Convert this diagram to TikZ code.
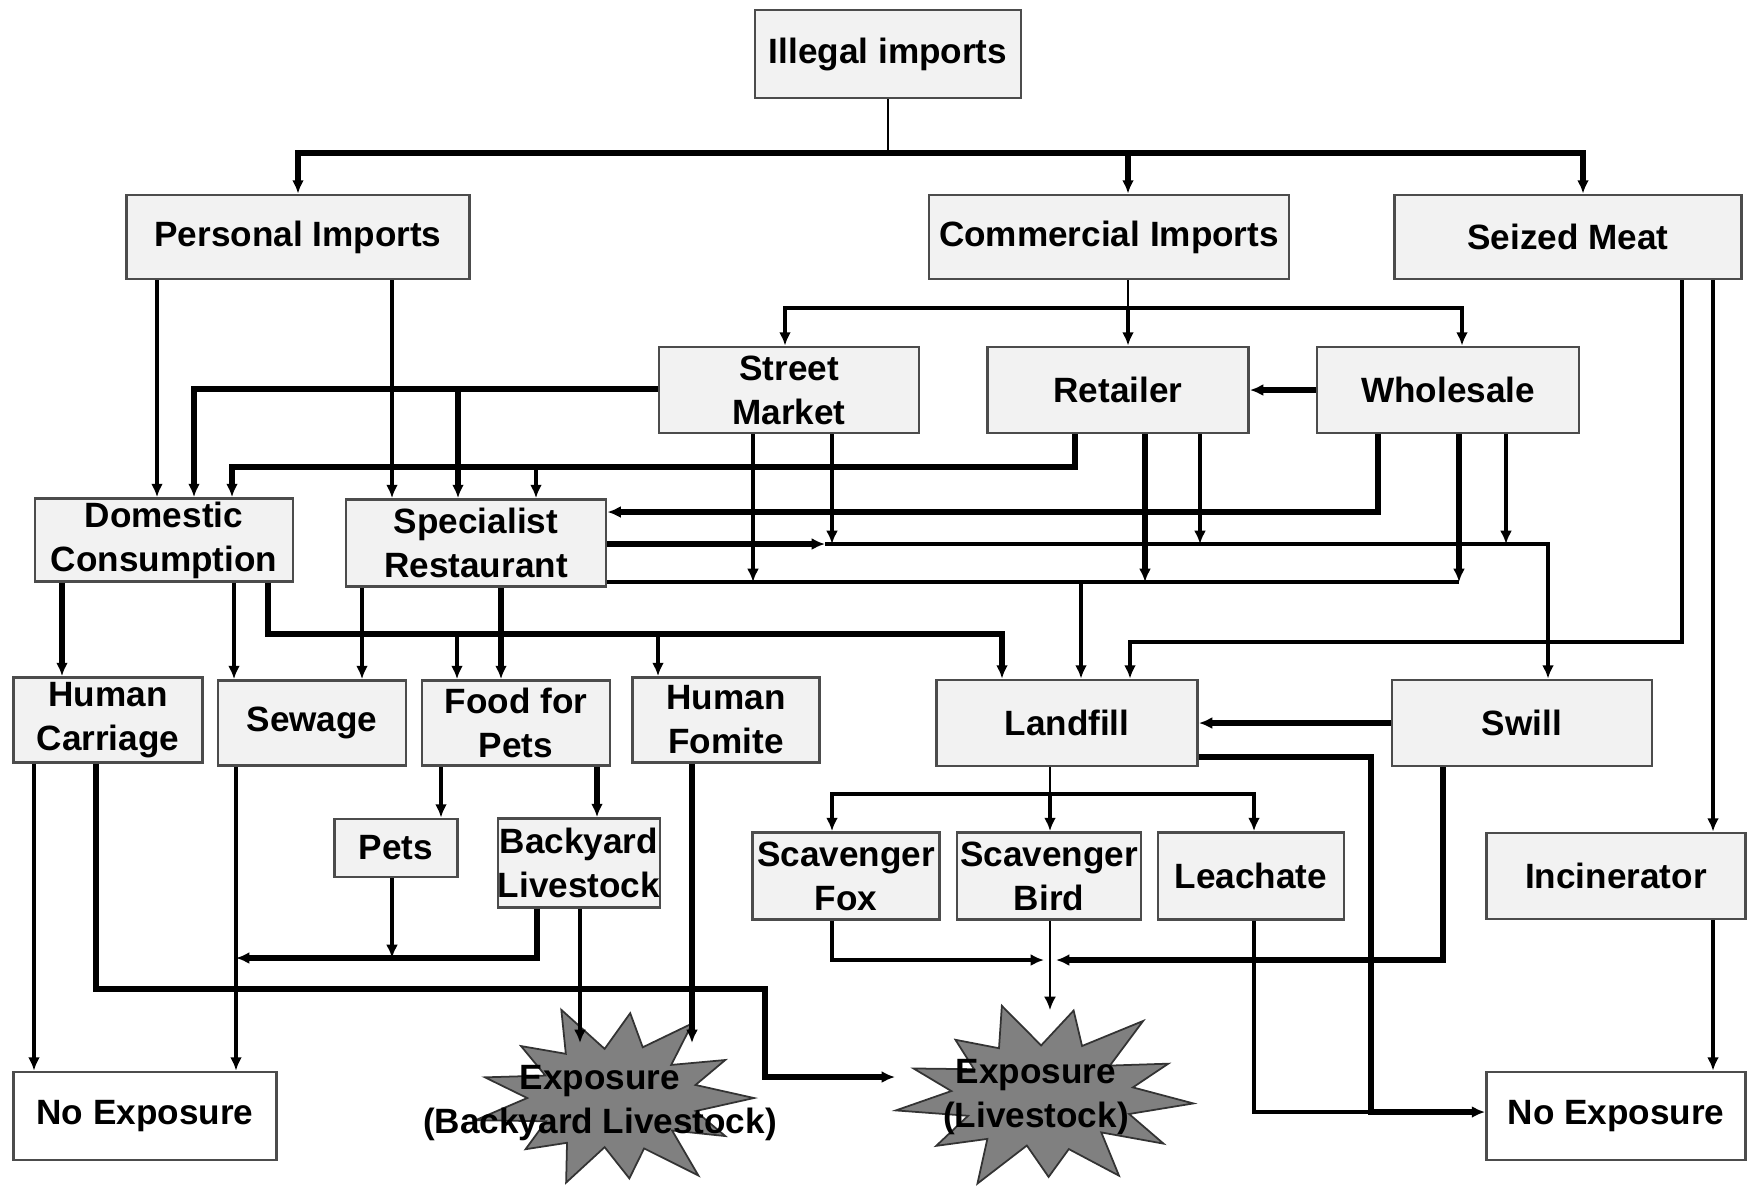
\documentclass[tikz,border=0pt]{standalone}
\usepackage{fontspec}
\setmainfont{Liberation Sans}
\usetikzlibrary{arrows.meta}
\begin{document}
\begin{tikzpicture}[x=0.1mm, y=-0.1mm, >={Latex[length=3.8pt,width=3.4pt]},
  box/.style={draw=black!70, fill=gray!10, line width=0.8pt, inner sep=0pt, align=center,
    font=\bfseries\fontsize{10}{12.5}\selectfont},
  endbox/.style={box, fill=white},
  burst/.style={fill=gray, draw=black!80, line width=0.5pt, line join=miter},
  lbl/.style={align=center, font=\bfseries\fontsize{10}{12.5}\selectfont},
  flow/.style={line width=1.1pt},
  heavy/.style={line width=1.7pt},
  thinln/.style={line width=0.6pt}]
\useasboundingbox (0,0) rectangle (1748,1187);

\node[box, minimum width=26.6mm, minimum height=8.8mm] (ill) at (888,54) {Illegal imports};
\node[box, minimum width=34.3mm, minimum height=8.4mm] (pers) at (298,237) {Personal Imports};
\node[box, minimum width=36mm, minimum height=8.4mm] (comm) at (1109,237) {Commercial Imports};
\node[box, minimum width=34.7mm, minimum height=8.4mm] (seiz) at (1568,237) {Seized Meat};
\node[box, minimum width=26mm, minimum height=8.6mm] (street) at (789,390) {Street\\Market};
\node[box, minimum width=26.1mm, minimum height=8.6mm] (retail) at (1118,390) {Retailer};
\node[box, minimum width=26.2mm, minimum height=8.6mm] (whole) at (1448,390) {Wholesale};
\node[box, minimum width=25.8mm, minimum height=8.3mm] (dom) at (164,540) {Domestic\\Consumption};
\node[box, minimum width=26mm, minimum height=8.7mm] (spec) at (476,543) {Specialist\\Restaurant};
\node[box, minimum width=18.9mm, minimum height=8.5mm] (hcar) at (108,720) {Human\\Carriage};
\node[box, minimum width=18.8mm, minimum height=8.5mm] (sew) at (312,723) {Sewage};
\node[box, minimum width=18.8mm, minimum height=8.5mm] (food) at (516,723) {Food for\\Pets};
\node[box, minimum width=18.7mm, minimum height=8.5mm] (hfom) at (726,720) {Human\\Fomite};
\node[box, minimum width=26.1mm, minimum height=8.6mm] (land) at (1067,723) {Landfill};
\node[box, minimum width=26mm, minimum height=8.6mm] (swill) at (1522,723) {Swill};
\node[box, minimum width=12.3mm, minimum height=5.8mm] (pets) at (396,848) {Pets};
\node[box, minimum width=15.3mm, minimum height=8.9mm] (back) at (579,863) {Backyard\\Livestock};
\node[box, minimum width=18.7mm, minimum height=8.7mm] (fox) at (846,876) {Scavenger\\Fox};
\node[box, minimum width=18.4mm, minimum height=8.7mm] (bird) at (1049,876) {Scavenger\\Bird};
\node[box, minimum width=18.6mm, minimum height=8.7mm] (leach) at (1251,876) {Leachate};
\node[box, minimum width=25.9mm, minimum height=8.6mm] (incin) at (1616,876) {Incinerator};
\node[endbox, minimum width=26.3mm, minimum height=8.8mm] (noexl) at (145,1116) {No Exposure};
\node[endbox, minimum width=25.9mm, minimum height=8.8mm] (noexr) at (1616,1116) {No Exposure};

% exposure bursts
\coordinate (expa) at (614,1098);
\coordinate (expb) at (1044,1096);
\draw[burst, shift={(expa)}] (0:140 and 80)
  \foreach \a/\f in {14/0.6,28/0.9,41/0.55,55/1.05,69/0.6,83/0.9,97/0.55,110/1.0,124/0.6,
    138/0.85,152/0.55,166/1.02,180/0.62,194/0.95,207/0.55,221/0.88,235/0.6,249/1.05,263/0.55,
    277/0.95,290/0.6,304/1.0,318/0.55,332/0.9,346/0.6}
  { -- (\a:{\f*140} and {\f*90}) } -- cycle;
\draw[burst, shift={(expb)}] (5:150 and 85)
  \foreach \a/\f in {19/0.6,33/0.95,46/0.55,60/1.0,74/0.6,88/0.88,102/0.55,115/1.05,129/0.6,
    143/0.9,157/0.55,171/1.0,185/0.62,199/0.92,212/0.55,226/0.85,240/0.6,254/1.02,268/0.55,
    282/0.95,295/0.6,309/1.05,323/0.55,337/0.9,351/0.6}
  { -- (\a:{\f*150} and {\f*92}) } -- cycle;
\node[lbl] (expatxt) at (600,1103) {Exposure\\(Backyard Livestock)};
\node[lbl] (expbtxt) at (1036,1097) {Exposure\\(Livestock)};

\coordinate (top) at (888,153);
\coordinate (cbus) at (1128,308);
\coordinate (lbus) at (1050,794);
\draw[thinln] (ill) -- (top);
\draw[heavy,->] (top) -| (pers);
\draw[heavy,->] (top) -| (comm.north -| 1128,0);
\draw[heavy,->] (top) -| (seiz.north -| 1583,0);

\draw[flow,->] (pers.south -| 157,0) -- (dom.north -| 157,0);
\draw[flow,->] (pers.south -| 392,0) -- (spec.north -| 392,0);

\draw[thinln] (comm.south -| cbus) -- (cbus);
\draw[flow,->] (cbus) -- (retail.north -| cbus);
\draw[flow,->] (cbus) -| (street.north -| 785,0);
\draw[flow,->] (cbus) -| (whole.north -| 1462,0);

\draw[heavy,->] (street.west |- 0,389) -| (dom.north -| 194,0);
\draw[heavy,->] (458,389) -- (spec.north -| 458,0);
\draw[flow,->] (street.south -| 753,0) -- (753,582);
\draw[flow,->] (street.south -| 832,0) -- (832,544);

\draw[heavy,->] (retail.south -| 1075,0) |- (232,467) -- (dom.north -| 232,0);
\draw[flow,->] (536,467) -- (spec.north -| 536,0);
\draw[heavy,->] (retail.south -| 1145,0) -- (1145,582);
\draw[flow,->] (retail.south -| 1200,0) -- (1200,544);

\draw[heavy,->] (whole) -- (retail);
\draw[heavy,->] (whole.south -| 1378,0) |- (spec.east |- 0,512);
\draw[heavy,->] (whole.south -| 1459,0) -- (1459,582);
\draw[flow,->] (whole.south -| 1506,0) -- (1506,544);

\draw[heavy,->] (spec.east |- 0,544) -- (825,544);
\draw[flow,->] (825,544) -| (swill.north -| 1548,0);
\draw[flow] (spec.east |- 0,582) -- (1459,582);
\draw[flow,->] (1081,582) -- (land.north -| 1081,0);

\draw[flow,->] (seiz.south -| 1682,0) |- (1130,642) -- (land.north -| 1130,0);
\draw[flow,->] (seiz.south -| 1713,0) -- (incin.north -| 1713,0);

\draw[heavy,->] (dom.south -| 62,0) -- (hcar.north -| 62,0);
\draw[flow,->] (dom.south -| 234,0) -- (sew.north -| 234,0);
\draw[heavy,->] (dom.south -| 268,0) |- (1002,634) -- (land.north -| 1002,0);
\draw[flow,->] (457,634) -- (food.north -| 457,0);
\draw[flow,->] (658,634) -- (hfom.north -| 658,0);
\draw[flow,->] (spec.south -| 362,0) -- (sew.north -| 362,0);
\draw[heavy,->] (spec.south -| 501,0) -- (food.north -| 501,0);

\draw[flow,->] (food.south -| 441,0) -- (pets.north -| 441,0);
\draw[heavy,->] (food.south -| 597,0) -- (back.north -| 597,0);
\draw[flow,->] (pets.south -| 392,0) -- (392,958);
\draw[heavy,->] (back.south -| 537,0) |- (236,958);
\draw[flow,->] (back.south -| 580,0) -- (580,1043);
\draw[heavy,->] (hfom.south -| 692,0) -- (692,1043);

\draw[flow,->] (hcar.south -| 34,0) -- (noexl.north -| 34,0);
\draw[heavy,->] (hcar.south -| 96,0) |- (765,989) |- (895,1077);
\draw[flow,->] (sew.south -| 236,0) -- (noexl.north -| 236,0);

\draw[thinln] (land.south -| lbus) -- (lbus);
\draw[flow,->] (lbus) -- (bird.north -| lbus);
\draw[flow,->] (lbus) -| (fox.north -| 832,0);
\draw[flow,->] (lbus) -| (leach.north -| 1254,0);
\draw[heavy,->] (land.east |- 0,757) -| (1371,1112) -- (noexr.west |- 0,1112);
\draw[heavy,->] (swill) -- (land);
\draw[heavy,->] (swill.south -| 1443,0) |- (1056,960);
\draw[flow,->] (fox.south -| 832,0) |- (1044,960);
\draw[thinln,->] (bird.south -| 1050,0) -- (1050,1010);
\draw[flow] (leach.south -| 1254,0) |- (1371,1112);
\draw[flow,->] (incin.south -| 1713,0) -- (noexr.north -| 1713,0);
\end{tikzpicture}
\end{document}
